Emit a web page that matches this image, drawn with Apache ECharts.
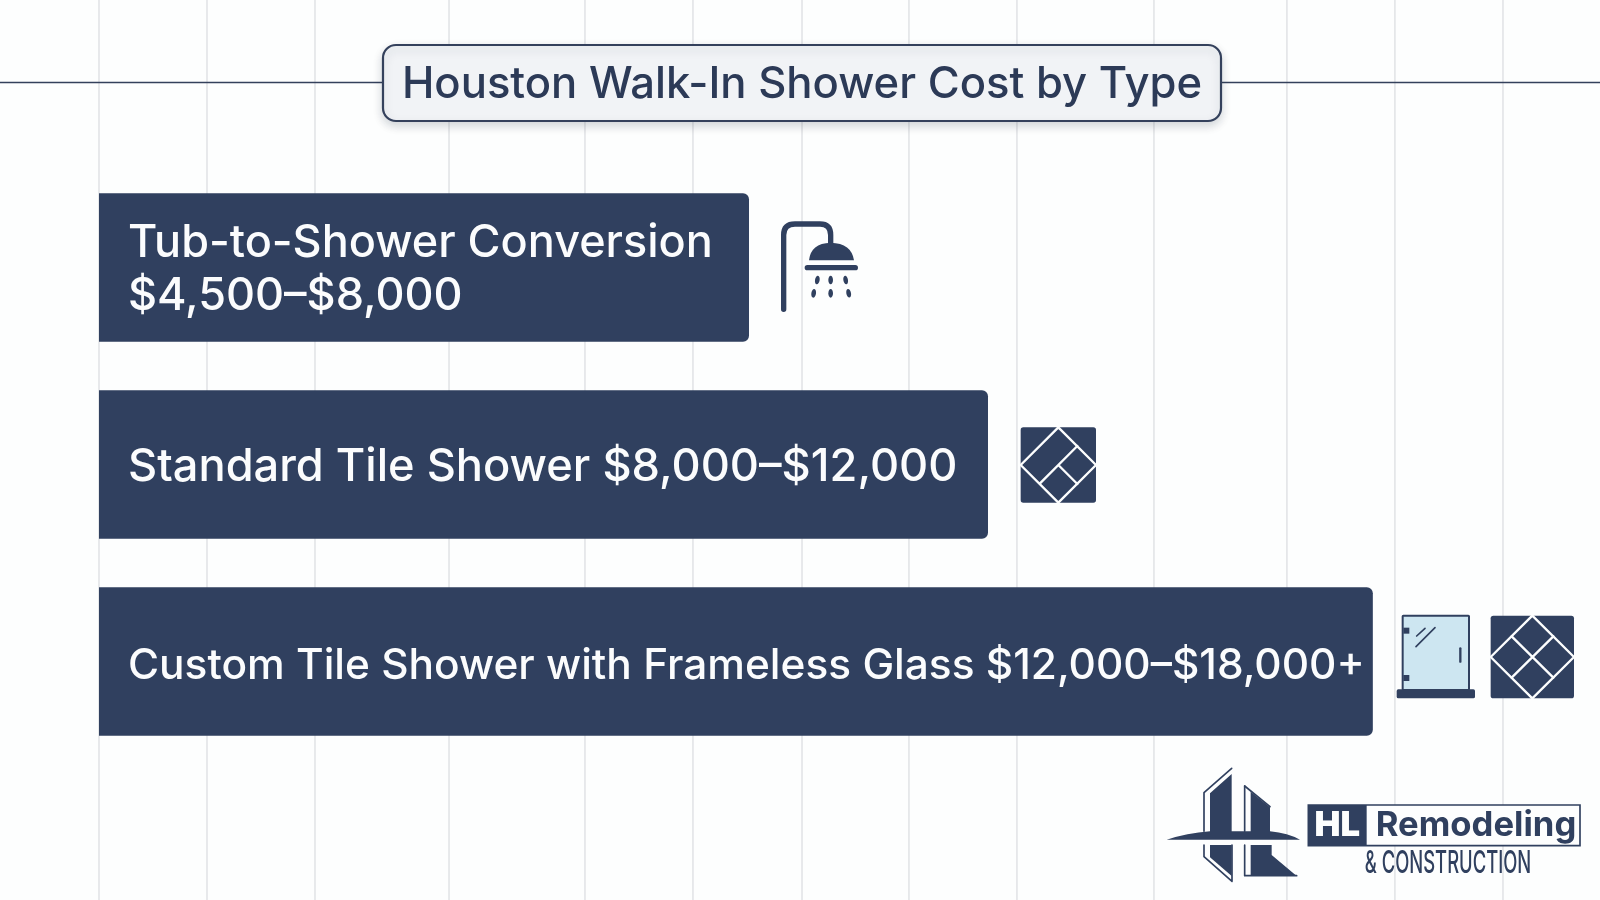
<!DOCTYPE html>
<html>
<head>
<meta charset="utf-8">
<title>Houston Walk-In Shower Cost by Type</title>
<style>
  html, body { margin: 0; height: 100%; background: #fdfefe; }
  #chart { width: 1600px; height: 900px; }
</style>
</head>
<body>
<div id="chart"></div>
<script src="https://cdn.jsdelivr.net/npm/echarts@6/dist/echarts.min.js"></script>
<script>
const titleText = 'Houston Walk-In Shower Cost by Type'
const categories = ['Tub-to-Shower Conversion', 'Standard Tile Shower', 'Custom Tile Shower with Frameless Glass']
const priceRanges = ['$4,500–$8,000', '$8,000–$12,000', '$12,000–$18,000+']
// bar lengths as drawn, they are not to scale with the prices on them
const barValues = [9185, 12562, 18000]
const gridValues = [0, 1526, 3052, 4946, 6867, 8393, 9934, 11445, 12971, 14907, 16786, 18312, 19839]
const axisMax = 21210

const navy = '#30405f'
const line = '#34415c'
const font = 'Inter, "Noto Sans", sans-serif'

// the graphic component has no plain svg path type, so register one per path
let shapeCount = 0
const pathShape = (pathData) => {
  const name = 'iconPath' + shapeCount++
  echarts.graphic.registerShape(name, echarts.graphic.extendPath(pathData))
  return name
}

// every piece of the icons is drawn in the coordinates of a 3x crop
const box = (x, y, x2, y2, r, fill, extra) => ({
  type: 'rect',
  z: 10,
  shape: { x, y, width: x2 - x, height: y2 - y, r },
  style: { fill, ...extra }
})
const stroke = (pathData, lineWidth, color) => ({
  type: pathShape(pathData),
  z: 11,
  style: { fill: 'none', stroke: color || '#fdfefe', lineWidth, lineCap: 'round', lineJoin: 'round' }
})
const solid = (pathData, fill) => ({
  type: pathShape(pathData),
  z: 11,
  style: { fill: fill || navy }
})
const drop = (cx, cy, rotation) => ({
  type: 'ellipse',
  z: 11,
  x: cx,
  y: cy,
  rotation,
  shape: { cx: 0, cy: 0, rx: 7, ry: 13 },
  style: { fill: navy }
})

const showerIcon = {
  type: 'group',
  x: 740,
  y: 180,
  scaleX: 1 / 3,
  scaleY: 1 / 3,
  children: [
    stroke('M131,388 L131,165 Q131,132 165,132 L240,132 Q272,132 272,165 L272,195', 16, navy),
    solid('M207,241 Q212,190 272,188 Q335,190 342,241 Z'),
    stroke('M202,263 L346,263', 16, navy),
    drop(232, 300, -0.15), drop(272, 300, 0), drop(317, 300, 0.15),
    drop(221, 340, -0.15), drop(272, 340, 0), drop(326, 340, 0.2)
  ]
}

const tileIcon = {
  type: 'group',
  x: 740,
  y: 180,
  scaleX: 1 / 3,
  scaleY: 1 / 3,
  children: [
    box(842, 742, 1068, 968, 8, navy),
    stroke('M955,742 L1068,855 L955,968 L842,855 Z', 7),
    stroke('M1012,798 L900,910 M955,855 L1012,912', 7)
  ]
}

const glassIcon = {
  type: 'group',
  x: 1340,
  y: 590,
  scaleX: 1 / 3,
  scaleY: 1 / 3,
  children: [
    box(188, 77, 387, 300, 2, '#cde6f1', { stroke: navy, lineWidth: 6 }),
    box(170, 298, 405, 325, 5, navy),
    box(190, 113, 208, 131, 0, navy),
    box(190, 255, 208, 273, 0, navy),
    stroke('M361,175 L361,215', 7, navy),
    stroke('M230,138 L255,115 M228,170 L285,113', 5, navy)
  ]
}

const diamondIcon = {
  type: 'group',
  x: 1340,
  y: 590,
  scaleX: 1 / 3,
  scaleY: 1 / 3,
  children: [
    box(452, 77, 702, 325, 8, navy),
    stroke('M577,77 L702,201 L577,325 L452,201 Z', 7),
    stroke('M515,139 L640,263 M640,139 L515,263', 7)
  ]
}

const logo = {
  type: 'group',
  x: 1140,
  y: 750,
  scaleX: 1 / 3,
  scaleY: 1 / 3,
  children: [
    solid('M80,269 Q140,250 210,244 L210,130 L275,72 L275,244 L312,244 L332,244 L332,125 L390,172 L390,244 Q445,250 480,269 Z'),
    stroke('M275,55 L192,128 L192,244', 5, navy),
    stroke('M314,108 L390,170', 5, navy),
    stroke('M314,108 L314,244', 5, navy),
    solid('M210,285 L275,285 L275,378 L210,322 Z'),
    stroke('M192,285 L192,320 L276,394 L276,285', 5, navy),
    solid('M332,285 L395,285 L395,315 L470,378 L332,378 Z'),
    stroke('M314,285 L314,377 L470,377', 5, navy),
    box(505, 165, 1320, 287, 0, '#fdfefe', { stroke: navy, lineWidth: 5 }),
    box(505, 165, 680, 287, 0, navy),
    {
      type: 'text',
      z: 12,
      x: 592,
      y: 226,
      style: {
        text: 'HL',
        font: '900 104px Inter, sans-serif',
        fill: '#fdfefe',
        align: 'center',
        verticalAlign: 'middle'
      }
    },
    {
      type: 'text',
      z: 12,
      x: 1008,
      y: 226,
      style: {
        text: 'Remodeling',
        font: '700 104px Inter, sans-serif',
        fill: navy,
        align: 'center',
        verticalAlign: 'middle'
      }
    },
    {
      type: 'text',
      z: 12,
      x: 924,
      y: 342,
      scaleX: 0.6,
      style: {
        text: '& CONSTRUCTION',
        font: '500 92px Inter, sans-serif',
        fill: navy,
        align: 'center',
        verticalAlign: 'middle'
      }
    }
  ]
}

// each row's text is sized on its own in the picture
const rowLabel = (fontSize, dy) => ({ fontSize, offset: [0, dy] })

const option = {
  backgroundColor: '#fdfefe',
  animation: false,
  grid: [
    { left: 99, top: 0, width: 1501, height: 900 },
    { left: 99, top: 169, width: 1501, height: 591 }
  ],
  xAxis: [
    { type: 'value', gridIndex: 0, min: 0, max: axisMax, show: false },
    { type: 'value', gridIndex: 1, min: 0, max: axisMax, show: false }
  ],
  yAxis: [
    { type: 'value', gridIndex: 0, min: 0, max: 1, show: false },
    { type: 'category', gridIndex: 1, data: categories, inverse: true, show: false }
  ],
  series: [
    {
      // the vertical rules are not evenly spaced so axis splitLines can't do them
      type: 'custom',
      xAxisIndex: 0,
      yAxisIndex: 0,
      z: 1,
      silent: true,
      data: gridValues,
      renderItem: (params, api) => {
        const top = api.coord([api.value(0), 1])
        const bottom = api.coord([api.value(0), 0])
        return {
          type: 'line',
          shape: { x1: top[0], y1: top[1], x2: bottom[0], y2: bottom[1] },
          style: { stroke: '#e2e4e7', lineWidth: 1.6 }
        }
      }
    },
    {
      type: 'bar',
      xAxisIndex: 1,
      yAxisIndex: 1,
      z: 2,
      barWidth: 148.5,
      data: [
        { value: barValues[0], label: rowLabel(45, 2) },
        { value: barValues[1], label: rowLabel(45.2, 3) },
        { value: barValues[2], label: rowLabel(42.4, 5) }
      ],
      itemStyle: {
        color: navy,
        borderRadius: [0, 6, 6, 0]
      },
      label: {
        show: true,
        position: 'insideLeft',
        distance: 29,
        color: '#fbfcfd',
        fontFamily: font,
        fontWeight: 500,
        lineHeight: 53,
        formatter: (p) => {
          const sep = p.dataIndex === 0 ? '\n' : ' '
          return categories[p.dataIndex] + sep + priceRanges[p.dataIndex]
        }
      }
    }
  ],
  graphic: [
    {
      type: 'line',
      z: 9,
      shape: { x1: 0, y1: 82.5, x2: 1600, y2: 82.5 },
      style: { stroke: line, lineWidth: 1.6 }
    },
    {
      type: 'rect',
      z: 10,
      shape: { x: 383, y: 45, width: 838, height: 76, r: 13 },
      style: {
        fill: '#f1f3f6',
        stroke: line,
        lineWidth: 2.2,
        shadowBlur: 10,
        shadowColor: 'rgba(30,40,60,0.18)',
        shadowOffsetY: 4
      }
    },
    {
      type: 'text',
      z: 11,
      x: 802,
      y: 85,
      style: {
        text: titleText,
        font: '500 43.6px ' + font,
        fill: '#2c3a57',
        align: 'center',
        verticalAlign: 'middle'
      }
    },
    showerIcon,
    tileIcon,
    glassIcon,
    diamondIcon,
    logo
  ]
}

const chart = echarts.init(document.getElementById('chart'))
chart.setOption(option)

window.addEventListener('resize', () => {
  chart.resize()
})
</script>
</body>
</html>
